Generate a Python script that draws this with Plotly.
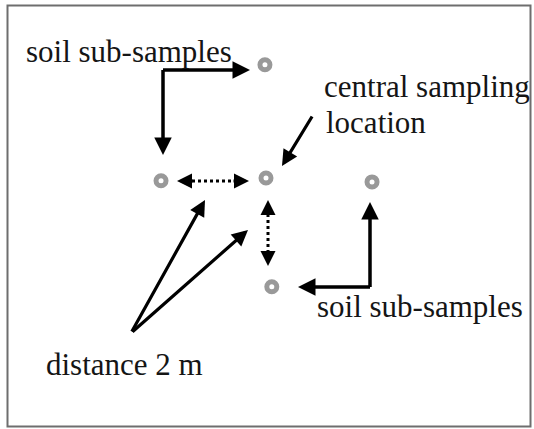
import plotly.graph_objects as go

# ---- data: soil sub-sample locations around the central sampling point (metres)
sample_names = ["top", "left", "centre", "right", "bottom"]
sample_x_m = [-0.02, -1.99, 0.0, 2.01, 0.11]
sample_y_m = [2.04, -0.05, 0.0, -0.07, -1.96]

label_sub = "soil sub-samples"
label_central = ["central sampling", "location"]
label_distance = "distance 2 m"

W, H = 534, 429
CX, CY = 266.0, 178.0      # pixel of the central point
SX, SY = 52.75, 55.5       # pixels per metre


def P(px, py):
    """convert a layout pixel position into metre coordinates of the axes"""
    return (px - CX) / SX, (CY - py) / SY


fig = go.Figure()

fig.add_trace(go.Scatter(
    x=sample_x_m, y=sample_y_m, mode="markers", text=sample_names,
    hoverinfo="text",
    marker=dict(symbol="circle-open", size=10, color="#999999",
                line=dict(width=5, color="#999999")),
    showlegend=False,
))

ann = []


def arrow(tail, tip, width=3.5, size=1.0):
    x, y = P(*tip)
    ax, ay = P(*tail)
    ann.append(dict(x=x, y=y, ax=ax, ay=ay, xref="x", yref="y", axref="x", ayref="y",
                    showarrow=True, arrowhead=2, arrowsize=size, arrowwidth=width,
                    arrowcolor="#000000", standoff=0, startstandoff=0, text=""))


def label(txt, left, baseline, fs=31):
    x, y = P(left, baseline - 0.3375 * fs)
    ann.append(dict(x=x, y=y, xref="x", yref="y", text=txt, showarrow=False,
                    xanchor="left", yanchor="middle", borderpad=0,
                    font=dict(family="Liberation Serif, Times New Roman, serif",
                              size=fs, color="#151515")))


shapes = []


def seg(a, b, width=3.5, dash="solid"):
    x0, y0 = P(*a)
    x1, y1 = P(*b)
    shapes.append(dict(type="line", xref="x", yref="y", x0=x0, y0=y0, x1=x1, y1=y1,
                       line=dict(color="#000000", width=width, dash=dash)))


# top-left elbow arrows
arrow((161.5, 70), (250, 70))
arrow((163, 68.5), (163, 155))
# central location arrow
arrow((313, 115), (282, 166), width=3.2)
# horizontal dotted double arrow
seg((192, 181), (234, 181), width=3, dash="dot")
arrow((194, 181), (177, 181), width=3)
arrow((232, 181), (249, 181), width=3)
# vertical dotted double arrow
seg((268, 214), (268, 252), width=3, dash="dot")
arrow((268, 216), (268, 200), width=3)
arrow((268, 250), (268, 266), width=3)
# distance arrows
arrow((131, 333), (205, 200), width=3.2)
arrow((131, 333), (248, 230), width=3.2)
# bottom-right elbow arrows
arrow((370, 288.5), (370, 202))
arrow((371.5, 287), (298, 287))

label(label_sub, 25, 62)
label(label_central[0], 323, 97)
label(label_central[1], 325, 133)
label(label_sub, 316, 317)
label(label_distance, 45, 375)

# frame
shapes.append(dict(type="rect", xref="paper", yref="paper",
                   x0=7.5 / W, x1=530.5 / W, y0=1 - 426.5 / H, y1=1 - 5.5 / H,
                   line=dict(color="#6e6e6e", width=2)))

fig.update_layout(
    width=W, height=H, margin=dict(l=0, r=0, t=0, b=0),
    paper_bgcolor="white", plot_bgcolor="white",
    xaxis=dict(range=[-CX / SX, (W - CX) / SX], visible=False, fixedrange=True),
    yaxis=dict(range=[-(H - CY) / SY, CY / SY], visible=False, fixedrange=True),
    annotations=ann, shapes=shapes,
)

fig.write_html(
    "out.html",
    config={"displayModeBar": False},
    post_script="document.body.style.margin='0px';document.body.style.overflow='hidden';",
)
